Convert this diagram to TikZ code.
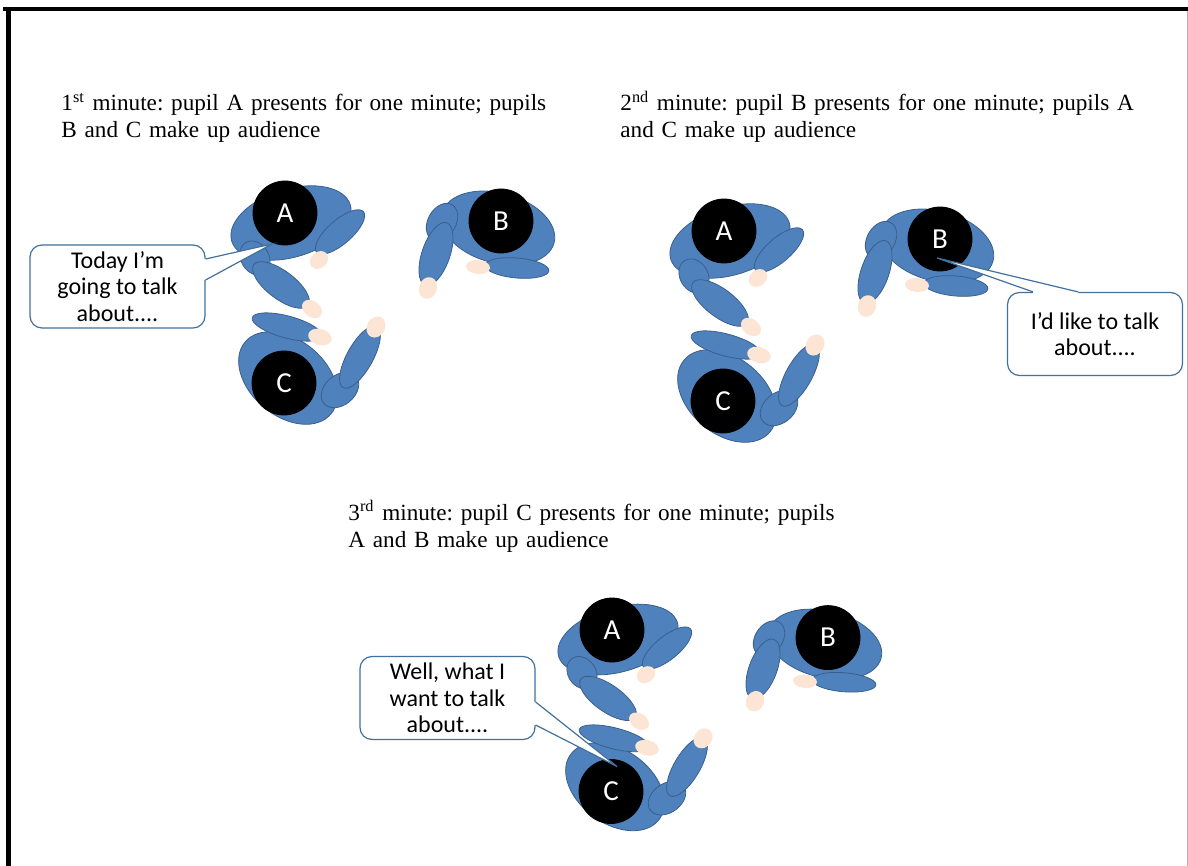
\documentclass[tikz,border=0pt]{standalone}
\usepackage{fontspec}
\setmainfont{Liberation Serif}
\newfontfamily\calibri{Carlito}
\usetikzlibrary{calc}
\frenchspacing

\definecolor{jacketblue}{RGB}{79,129,189}
\definecolor{jacketline}{RGB}{58,95,142}
\definecolor{skin}{RGB}{252,229,213}
\definecolor{bubbleline}{RGB}{65,113,156}

\tikzset{
  jacket/.style={fill=jacketblue, draw=jacketline, line width=0.4pt},
  hand/.style={fill=skin, draw=none},
  head/.style={circle, fill=black, draw=black, inner sep=0pt, minimum size=32pt,
    text=white, font=\calibri\fontsize{14.5}{16}\selectfont},
  heading/.style={anchor=base west, inner sep=0pt, text width=290pt, align=left,
    font=\fontsize{11.6}{13.5}\selectfont},
  bubble/.style={rectangle, rounded corners=6pt, fill=white, draw=bubbleline,
    line width=0.6pt, align=center, minimum width=87.5pt, minimum height=41.5pt,
    inner sep=0pt, font=\calibri\fontsize{12}{13.3}\selectfont},
  callout/.style={draw=bubbleline, line width=0.6pt},
  % three pupils seen from above, A's head at the origin
  pupils/.pic={
    % pupil A
    \filldraw[jacket, shift={(6,-10)}, rotate=17] (0,0) ellipse (62 and 34);
    \filldraw[jacket, shift={(-30,-45)}, rotate=-60] (0,0) ellipse (18 and 14);
    \filldraw[jacket, shift={(-4,-72)}, rotate=-37] (0,0) ellipse (34 and 14);
    \filldraw[jacket, shift={(55,-19)}, rotate=41] (0,0) ellipse (31 and 12);
    \fill[hand, shift={(27,-96)}, rotate=-37] (0,0) ellipse (11 and 8);
    \fill[hand, shift={(34,-47)}, rotate=41] (0,0) ellipse (10 and 8);
    \node[head] (-A) at (0,0) {A};
    % pupil B
    \filldraw[jacket, shift={(213,-15)}, rotate=-15] (0,0) ellipse (58 and 35);
    \filldraw[jacket, shift={(157,-9)}, rotate=60] (0,0) ellipse (20 and 14);
    \filldraw[jacket, shift={(151,-41)}, rotate=71] (0,0) ellipse (33 and 14);
    \filldraw[jacket, shift={(232,-55)}, rotate=-5] (0,0) ellipse (32 and 10);
    \fill[hand, shift={(143,-75)}, rotate=71] (0,0) ellipse (11 and 9);
    \fill[hand, shift={(193,-54)}, rotate=-5] (0,0) ellipse (12 and 7);
    \node[head] (-B) at (216,-8) {B};
    % pupil C
    \filldraw[jacket, shift={(3,-165)}, rotate=-40] (0,0) ellipse (56 and 38);
    \filldraw[jacket, shift={(55,-177)}, rotate=40] (0,0) ellipse (21 and 15);
    \filldraw[jacket, shift={(2,-114)}, rotate=-15] (0,0) ellipse (36 and 11);
    \filldraw[jacket, shift={(75,-144)}, rotate=61] (0,0) ellipse (35 and 13);
    \fill[hand, shift={(35,-124)}, rotate=-15] (0,0) ellipse (12 and 8);
    \fill[hand, shift={(91,-114)}, rotate=61] (0,0) ellipse (11 and 9);
    \node[head] (-C) at (-1,-170) {C};
  }
}

\begin{document}
\begin{tikzpicture}[x=0.5pt, y=0.5pt]
\useasboundingbox (0,0) rectangle (1188,-866);

% page frame
\draw[line width=2.6pt] (8.3,-866) -- (8.3,-7);
\draw[line width=2pt] (3,-9) -- (1188,-9);
\draw[black!30, line width=0.5pt] (1187,-11) -- (1187,-866);

% captions
\node[heading] (min1) at (61,-111)
  {1\textsuperscript{st} minute: pupil A presents for one minute; pupils\\B and C make up audience};
\node[heading] (min2) at (620,-111)
  {2\textsuperscript{nd} minute: pupil B presents for one minute; pupils A\\and C make up audience};
\node[heading] (min3) at (348,-520)
  {3\textsuperscript{rd} minute: pupil C presents for one minute; pupils\\A and B make up audience};

% the three groups
\pic (g1) at (285,-213) {pupils};
\pic (g2) at (724,-231) {pupils};
\pic[yscale=0.95] (g3) at (612,-630) {pupils};

% speech bubbles
\node[bubble] (say1) at (117.5,-286.5) {Today I’m\\going to talk\\about....};
\coordinate (tip1) at ($(g1-A.center)+(-13,-31)$);
\fill[white] ($(say1.east)+(-3,27.5)$) -- ($(say1.east)+(0,27.5)$) -- (tip1)
  -- ($(say1.east)+(0,6.5)$) -- ($(say1.east)+(-3,6.5)$) -- cycle;
\draw[callout] ($(say1.east)+(0,27.5)$) -- (tip1) -- ($(say1.east)+(0,6.5)$);

\node[bubble] (say2) at (1095,-334) {I’d like to talk\\about....};
\coordinate (tip2) at ($(g2-B.center)+(-3,-19)$);
\fill[white] ($(say2.north)+(-62,-3)$) -- ($(say2.north)+(-62,0)$) -- (tip2)
  -- ($(say2.north)+(-17,0)$) -- ($(say2.north)+(-17,-3)$) -- cycle;
\draw[callout] ($(say2.north)+(-62,0)$) -- (tip2) -- ($(say2.north)+(-17,0)$);

\node[bubble] (say3) at (447.5,-698) {Well, what I\\want to talk\\about....};
\coordinate (tip3) at ($(g3-C.center)+(6,25)$);
\fill[white] ($(say3.east)+(-3,-4)$) -- ($(say3.east)+(0,-4)$) -- (tip3)
  -- ($(say3.east)+(0,-27)$) -- ($(say3.east)+(-3,-27)$) -- cycle;
\draw[callout] ($(say3.east)+(0,-4)$) -- (tip3) -- ($(say3.east)+(0,-27)$);
\end{tikzpicture}
\end{document}
